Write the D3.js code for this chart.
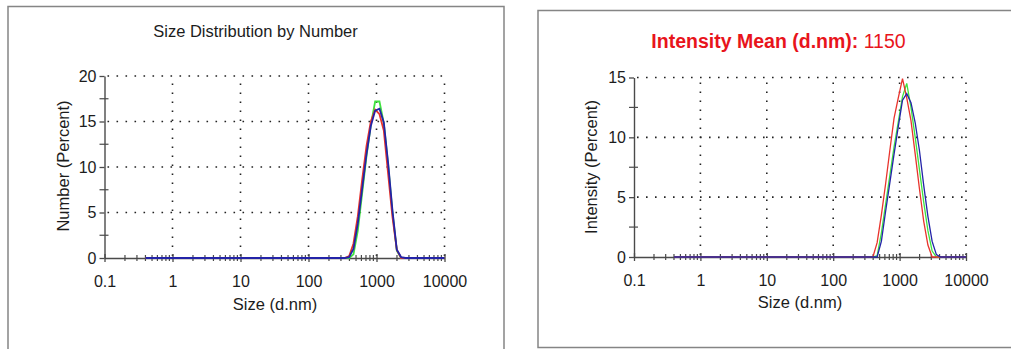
<!DOCTYPE html>
<html>
<head>
<meta charset="utf-8">
<script src="https://cdn.jsdelivr.net/npm/d3@7"></script>
<style>
  html, body { margin: 0; padding: 0; background: #fff; }
  svg { display: block; font-family: "Liberation Sans", Arial, sans-serif; }
</style>
</head>
<body>
<svg id="chart" width="1011" height="349"></svg>
<script>
// Size classes (d.nm) shared by both distributions
const sizeBins = [
  0.4, 0.4632, 0.5365, 0.6213, 0.7195, 0.8332, 0.9649, 1.117, 1.294, 1.499,
  1.736, 2.01, 2.328, 2.696, 3.122, 3.615, 4.187, 4.849, 5.615, 6.503,
  7.531, 8.721, 10.1, 11.7, 13.54, 15.69, 18.17, 21.04, 24.36, 28.21,
  32.67, 37.84, 43.82, 50.75, 58.77, 68.06, 78.82, 91.28, 105.7, 122.4,
  141.8, 164.2, 190.1, 220.2, 255.0, 295.3, 342.0, 396.1, 458.7, 531.2,
  615.1, 712.4, 825.0, 955.4, 1106, 1281, 1484, 1718, 1990, 2305,
  2669, 3091, 3580, 4145, 4801, 5560, 6439, 7456, 8635, 10000
];

// Number distribution (%), one array per measurement
const numberGreen = [
  0, 0, 0, 0, 0, 0, 0, 0, 0, 0,
  0, 0, 0, 0, 0, 0, 0, 0, 0, 0,
  0, 0, 0, 0, 0, 0, 0, 0, 0, 0,
  0, 0, 0, 0, 0, 0, 0, 0, 0, 0,
  0, 0, 0, 0, 0, 0, 0, 0, 0.4, 3.0,
  7.1, 11.2, 14.6, 17.2, 17.2, 14.8, 10.2, 5.0, 0.8, 0,
  0, 0, 0, 0, 0, 0, 0, 0, 0, 0
];
const numberRed = [
  0, 0, 0, 0, 0, 0, 0, 0, 0, 0,
  0, 0, 0, 0, 0, 0, 0, 0, 0, 0,
  0, 0, 0, 0, 0, 0, 0, 0, 0, 0,
  0, 0, 0, 0, 0, 0, 0, 0, 0, 0,
  0, 0, 0, 0, 0, 0, 0, 0.2, 1.6, 4.6,
  8.6, 12.3, 15.0, 16.3, 15.8, 14.0, 9.2, 4.5, 0.9, 0,
  0, 0, 0, 0, 0, 0, 0, 0, 0, 0
];
const numberBlue = [
  0, 0, 0, 0, 0, 0, 0, 0, 0, 0,
  0, 0, 0, 0, 0, 0, 0, 0, 0, 0,
  0, 0, 0, 0, 0, 0, 0, 0, 0, 0,
  0, 0, 0, 0, 0, 0, 0, 0, 0, 0,
  0, 0, 0, 0, 0, 0, 0, 0.1, 1.0, 3.8,
  7.6, 11.4, 14.5, 16.2, 16.4, 14.9, 10.4, 5.2, 0.9, 0.1,
  0, 0, 0, 0, 0, 0, 0, 0, 0, 0
];

// Intensity distribution (%)
const intensityGreen = [
  0, 0, 0, 0, 0, 0, 0, 0, 0, 0,
  0, 0, 0, 0, 0, 0, 0, 0, 0, 0,
  0, 0, 0, 0, 0, 0, 0, 0, 0, 0,
  0, 0, 0, 0, 0, 0, 0, 0, 0, 0,
  0, 0, 0, 0, 0, 0, 0, 0, 0.1, 2.0,
  4.4, 6.8, 9.2, 11.3, 13.4, 14.5, 12.5, 10.0, 7.3, 4.6,
  2.2, 0.5, 0, 0, 0, 0, 0, 0, 0, 0
];
const intensityRed = [
  0, 0, 0, 0, 0, 0, 0, 0, 0, 0,
  0, 0, 0, 0, 0, 0, 0, 0, 0, 0,
  0, 0, 0, 0, 0, 0, 0, 0, 0, 0,
  0, 0, 0, 0, 0, 0, 0, 0, 0, 0,
  0, 0, 0, 0, 0, 0, 0, 0, 1.2, 3.5,
  6.1, 8.9, 11.6, 13.3, 14.9, 13.3, 11.4, 8.6, 5.7, 3.0,
  1.0, 0, 0, 0, 0, 0, 0, 0, 0, 0
];
const intensityBlue = [
  0, 0, 0, 0, 0, 0, 0, 0, 0, 0,
  0, 0, 0, 0, 0, 0, 0, 0, 0, 0,
  0, 0, 0, 0, 0, 0, 0, 0, 0, 0,
  0, 0, 0, 0, 0, 0, 0, 0, 0, 0,
  0, 0, 0, 0, 0, 0, 0, 0, 0, 1.3,
  3.8, 6.2, 8.6, 10.9, 13.1, 13.65, 12.9, 11.2, 8.9, 6.0,
  3.4, 1.3, 0.2, 0, 0, 0, 0, 0, 0, 0
];

// Axis ticks
const xMajorTicks = [0.1, 1, 10, 100, 1000, 10000];
const xTickLabels = ["0.1", "1", "10", "100", "1000", "10000"];
const xMinorTicks = [
  0.2, 0.3, 0.4, 0.5, 0.6, 0.7, 0.8, 0.9,
  2, 3, 4, 5, 6, 7, 8, 9,
  20, 30, 40, 50, 60, 70, 80, 90,
  200, 300, 400, 500, 600, 700, 800, 900,
  2000, 3000, 4000, 5000, 6000, 7000, 8000, 9000
];
const numberYTicks = [0, 5, 10, 15, 20];
const numberYMinor = [2.5, 7.5, 12.5, 17.5];
const intensityYTicks = [0, 5, 10, 15];
const intensityYMinor = [2.5, 7.5, 12.5];

const seriesColors = { green: "#3fe23f", red: "#e8332c", blue: "#2323a8" };

const svg = d3.select("#chart");

// Panel frames
svg.append("rect").attr("x", 8).attr("y", 6.5).attr("width", 496).attr("height", 360)
  .attr("fill", "none").attr("stroke", "#858585").attr("stroke-width", 1.5);
svg.append("rect").attr("x", 538).attr("y", 10.5).attr("width", 490).attr("height", 337)
  .attr("fill", "none").attr("stroke", "#858585").attr("stroke-width", 1.5);

function drawPanel(cfg) {
  const g = svg.append("g");
  const x = d3.scaleLog().domain([0.1, 10000]).range([cfg.x0, cfg.x1]);
  const y = d3.scaleLinear().domain([0, cfg.yMax]).range([cfg.y0, cfg.y1]);

  // dotted grid
  const grid = g.append("g").attr("stroke", "#222").attr("stroke-width", 1.6)
    .attr("stroke-dasharray", "1.6,7.4").attr("fill", "none");
  grid.selectAll("line.v").data(xMajorTicks.slice(1)).join("line")
    .attr("x1", d => x(d)).attr("x2", d => x(d))
    .attr("y1", y(0) - 2).attr("y2", y(cfg.yMax));
  grid.selectAll("line.h").data(cfg.yTicks.slice(1)).join("line")
    .attr("y1", d => y(d)).attr("y2", d => y(d))
    .attr("x1", x(0.1) + 3).attr("x2", x(10000));

  // x axis
  const xAxis = g.append("g").attr("transform", `translate(0,${y(0)})`)
    .call(d3.axisBottom(x).tickValues(xMajorTicks).tickFormat((d, i) => xTickLabels[i])
      .tickSizeInner(4).tickSizeOuter(0).tickPadding(14));
  xAxis.select(".domain").attr("stroke", "#4a4a4a").attr("stroke-width", 1.4);
  xAxis.selectAll(".tick line").attr("y1", -4).attr("stroke", "#4a4a4a").attr("stroke-width", 1.3);
  xAxis.selectAll(".tick text").attr("font-size", cfg.tickFont).attr("fill", "#1c1c1c")
    .attr("font-family", "Liberation Sans, Arial, sans-serif");
  g.append("g").selectAll("line").data(xMinorTicks).join("line")
    .attr("x1", d => x(d)).attr("x2", d => x(d))
    .attr("y1", y(0) - 3).attr("y2", y(0) + 3)
    .attr("stroke", "#4a4a4a").attr("stroke-width", 1.2);

  // y axis
  const yAxis = g.append("g").attr("transform", `translate(${x(0.1)},0)`)
    .call(d3.axisLeft(y).tickValues(cfg.yTicks).tickFormat(d3.format("d"))
      .tickSizeInner(5).tickSizeOuter(0).tickPadding(3));
  yAxis.select(".domain").attr("stroke", "#4a4a4a").attr("stroke-width", 1.4);
  yAxis.selectAll(".tick line").attr("stroke", "#4a4a4a").attr("stroke-width", 1.3);
  yAxis.selectAll(".tick text").attr("font-size", cfg.tickFont).attr("fill", "#1c1c1c")
    .attr("font-family", "Liberation Sans, Arial, sans-serif");
  g.append("g").selectAll("line").data(cfg.yMinor).join("line")
    .attr("x1", x(0.1) - 5).attr("x2", x(0.1) + 4)
    .attr("y1", d => y(d)).attr("y2", d => y(d))
    .attr("stroke", "#4a4a4a").attr("stroke-width", 1.2);

  // distribution curves
  const line = d3.line().x((d, i) => x(sizeBins[i])).y(d => y(d));
  cfg.series.forEach(s => {
    g.append("path").datum(s.values)
      .attr("fill", "none").attr("stroke", seriesColors[s.color])
      .attr("stroke-width", cfg.lineWidth).attr("stroke-linejoin", "miter")
      .attr("d", line);
  });

  // axis titles
  g.append("text").attr("x", cfg.xTitlePos[0]).attr("y", cfg.xTitlePos[1])
    .attr("text-anchor", "middle").attr("font-size", 16.5).attr("fill", "#1c1c1c")
    .text("Size (d.nm)");
  g.append("text")
    .attr("transform", `translate(${cfg.yTitlePos[0]},${cfg.yTitlePos[1]}) rotate(-90)`)
    .attr("text-anchor", "middle").attr("font-size", 16.5).attr("fill", "#1c1c1c")
    .text(cfg.yTitle);
}

drawPanel({
  x0: 104.5, x1: 444.5, y0: 258, y1: 76, yMax: 20,
  yTicks: numberYTicks, yMinor: numberYMinor, tickFont: 16, lineWidth: 1.8,
  series: [
    { color: "green", values: numberGreen },
    { color: "red", values: numberRed },
    { color: "blue", values: numberBlue }
  ],
  xTitlePos: [275, 310], yTitlePos: [69, 166], yTitle: "Number (Percent)"
});

drawPanel({
  x0: 634, x1: 966, y0: 257, y1: 77.5, yMax: 15,
  yTicks: intensityYTicks, yMinor: intensityYMinor, tickFont: 16, lineWidth: 1.3,
  series: [
    { color: "green", values: intensityGreen },
    { color: "red", values: intensityRed },
    { color: "blue", values: intensityBlue }
  ],
  xTitlePos: [800, 308], yTitlePos: [597, 167], yTitle: "Intensity (Percent)"
});

// panel titles
svg.append("text").attr("x", 255.5).attr("y", 37).attr("text-anchor", "middle")
  .attr("font-size", 16.5).attr("fill", "#1c1c1c").text("Size Distribution by Number");

const meanTitle = svg.append("text").attr("x", 778.5).attr("y", 48)
  .attr("text-anchor", "middle").attr("font-size", 19.5).attr("fill", "#e8141b");
meanTitle.append("tspan").attr("font-weight", "bold").text("Intensity Mean (d.nm): ");
meanTitle.append("tspan").text("1150");
</script>
</body>
</html>
